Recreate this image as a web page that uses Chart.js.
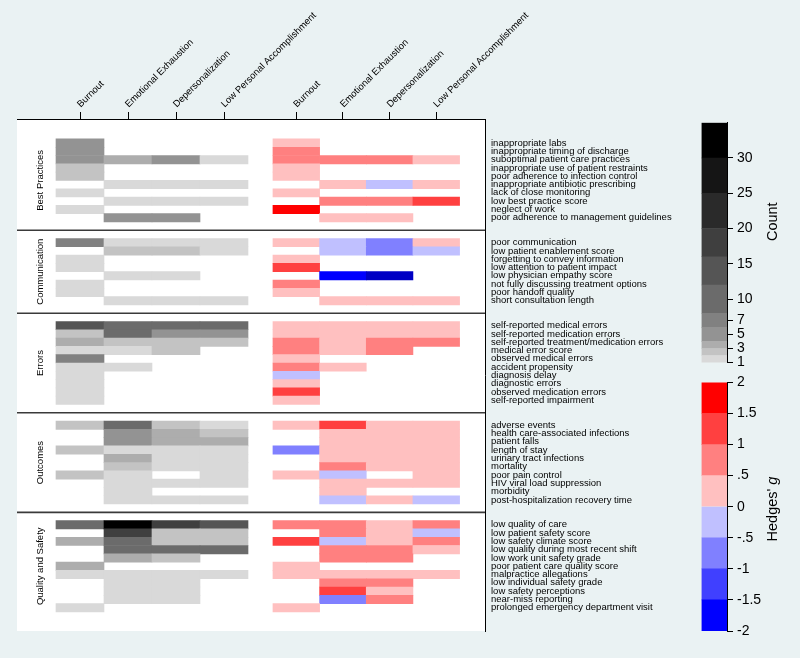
<!DOCTYPE html>
<html>
<head>
<meta charset="utf-8">
<script src="https://cdn.jsdelivr.net/npm/chart.js@4/dist/chart.umd.min.js"></script>
<style>
  html, body { margin: 0; padding: 0; background: #eaf2f3; }
  #wrap { position: relative; width: 800px; height: 658px; }
  canvas { position: absolute; }
  #main { left: 0; top: 0; }
  #cbCount { left: 690px; top: 110px; }
  #cbG { left: 690px; top: 370px; }
</style>
</head>
<body>
<div id="wrap">
  <canvas id="main" width="800" height="658"></canvas>
  <canvas id="cbCount" width="110" height="265"></canvas>
  <canvas id="cbG" width="110" height="275"></canvas>
</div>
<script>
// burnout heatmaps: number of studies (grey) and Hedges' g (red/blue)
const _ = null;
const dimensions = ['Burnout', 'Emotional Exhaustion', 'Depersonalization', 'Low Personal Accomplishment'];
const panelNames = ['Best Practices', 'Communication', 'Errors', 'Outcomes', 'Quality and Safety'];

const bestPracticesRows = ['inappropriate labs', 'inappropriate timing of discharge', 'suboptimal patient care practices',
  'inappropriate use of patient restraints', 'poor adherence to infection control', 'inappropriate antibiotic prescribing',
  'lack of close monitoring', 'low best practice score', 'neglect of work', 'poor adherence to management guidelines'];
const bestPracticesCount = [[5,_,_,_],[5,_,_,_],[5,3,5,1],[2,_,_,_],[2,_,_,_],[_,1,1,1],[1,_,_,_],[_,1,1,1],[1,_,_,_],[_,5,5,_]];
const bestPracticesG = [[.3,_,_,_],[.7,_,_,_],[.7,.7,.7,.3],[.3,_,_,_],[.3,_,_,_],[_,.3,-.2,.3],[.3,_,_,_],[_,.7,.7,1.2],[1.7,_,_,_],[_,.3,.3,_]];

const communicationRows = ['poor communication', 'low patient enablement score', 'forgetting to convey information',
  'low attention to patient impact', 'low physician empathy score', 'not fully discussing treatment options',
  'poor handoff quality', 'short consultation length'];
const communicationCount = [[7,1,1,1],[_,2,2,1],[1,_,_,_],[1,_,_,_],[_,1,1,_],[1,_,_,_],[1,_,_,_],[_,1,1,1]];
const communicationG = [[.3,-.2,-.7,.3],[_,-.2,-.7,-.2],[.3,_,_,_],[1.2,_,_,_],[_,-1.7,-2.3,_],[.7,_,_,_],[.3,_,_,_],[_,.3,.3,.3]];

const errorsRows = ['self-reported medical errors', 'self-reported medication errors', 'self-reported treatment/medication errors',
  'medical error score', 'observed medical errors', 'accident propensity', 'diagnosis delay', 'diagnostic errors',
  'observed medication errors', 'self-reported impairment'];
const errorsCount = [[14,10,10,10],[2,10,5,5],[3,2,2,2],[1,1,2,_],[7,_,_,_],[1,1,_,_],[1,_,_,_],[1,_,_,_],[1,_,_,_],[1,_,_,_]];
const errorsG = [[.3,.3,.3,.3],[.3,.3,.3,.3],[.7,.3,.7,.7],[.7,.3,.7,_],[.3,_,_,_],[.7,.3,_,_],[-.2,_,_,_],[.3,_,_,_],[1.2,_,_,_],[.3,_,_,_]];

const outcomesRows = ['adverse events', 'health care-associated infections', 'patient falls', 'length of stay',
  'urinary tract infections', 'mortality', 'poor pain control', 'HIV viral load suppression', 'morbidity',
  'post-hospitalization recovery time'];
const outcomesCount = [[2,10,2,1],[_,5,3,2],[_,5,3,3],[2,1,1,1],[_,3,1,1],[_,2,1,1],[2,1,_,1],[_,1,1,1],[_,1,_,_],[_,1,1,1]];
const outcomesG = [[.3,1.2,.3,.3],[_,.3,.3,.3],[_,.3,.3,.3],[-.7,.3,.3,.3],[_,.3,.3,.3],[_,.7,.3,.3],[.3,-.2,_,.3],[_,.3,.3,.3],[_,.3,_,_],[_,-.2,.3,-.2]];

const qualityRows = ['low quality of care', 'low patient safety score', 'low safety climate score',
  'low quality during most recent shift', 'low work unit safety grade', 'poor patient care quality score',
  'malpractice allegations', 'low individual safety grade', 'low safety perceptions', 'near-miss reporting',
  'prolonged emergency department visit'];
const qualityCount = [[10,32,18,14],[_,18,2,2],[3,10,2,2],[_,10,10,10],[_,3,2,_],[3,_,_,_],[1,1,1,1],[_,1,1,_],[_,1,1,_],[_,1,1,_],[1,_,_,_]];
const qualityG = [[.7,.7,.3,.7],[_,.7,.3,-.2],[1.2,-.2,.3,.7],[_,.7,.7,.3],[_,.7,.7,_],[.3,_,_,_],[.3,.3,.3,.3],[_,.7,.7,_],[_,1.2,.3,_],[_,-.7,.7,_],[.3,_,_,_]];

// legend bins and ticks
const countEdges = [1, 2, 3, 4, 6, 8, 12, 16, 20, 25, 30, 35];
const countTicks = [1, 3, 5, 7, 10, 15, 20, 25, 30];
const gEdges = [-2, -1.5, -1, -0.5, 0, 0.5, 1, 1.5, 2];
const gTicks = [-2, -1.5, -1, -0.5, 0, 0.5, 1, 1.5, 2];

const countColors = ['#d9d9d9', '#c3c3c3', '#adadad', '#939393', '#818181', '#6b6b6b', '#555555', '#3f3f3f', '#2a2a2a', '#151515', '#000000'];
const gColors = ['#0000ff', '#4040ff', '#8080ff', '#c0c0ff', '#ffc0c0', '#ff8080', '#ff4040', '#ff0000'];
const FONT = '"Liberation Sans", Arial, Helvetica, sans-serif';

function binColor(v, edges, colors, below) {
  if (v < edges[0]) return below;
  for (let i = 0; i < colors.length; i++) if (v < edges[i + 1]) return colors[i];
  return colors[colors.length - 1];
}

const panels = [
  { rows: bestPracticesRows, count: bestPracticesCount, g: bestPracticesG },
  { rows: communicationRows, count: communicationCount, g: communicationG },
  { rows: errorsRows, count: errorsCount, g: errorsG },
  { rows: outcomesRows, count: outcomesCount, g: outcomesG },
  { rows: qualityRows, count: qualityCount, g: qualityG },
];

// layout in row units (y) and column units (x)
const Y_MAX = 61.7;
const X_MIN = -0.3125, X_MAX = 9.4375;
const LEFT_X0 = 0.5, LEFT_W = 1;
const RIGHT_X0 = 5.02, RIGHT_W = 0.972;

const rowPos = [], rowLabels = [], separators = [], panelMid = [];
const cells = [], cellColors = [];
let start = 2.4;
panels.forEach((p, pi) => {
  p.rows.forEach((label, i) => {
    const y = start + i + 0.5;
    rowPos.push(y);
    rowLabels.push(label);
    for (let c = 0; c < 4; c++) {
      const n = p.count[i][c];
      if (n !== null) {
        cells.push({ x: [LEFT_X0 + c * LEFT_W, LEFT_X0 + (c + 1) * LEFT_W], y });
        cellColors.push(binColor(n, countEdges, countColors, countColors[0]));
      }
      const g = p.g[i][c];
      if (g !== null) {
        cells.push({ x: [RIGHT_X0 + c * RIGHT_W, RIGHT_X0 + (c + 1) * RIGHT_W], y });
        cellColors.push(binColor(g, gEdges, gColors, '#0000c4'));
      }
    }
  });
  panelMid.push(start + p.rows.length / 2);
  if (pi < panels.length - 1) separators.push(start + p.rows.length + 1);
  start += p.rows.length + 2;
});

const colCenters = [];
for (let c = 0; c < 4; c++) colCenters.push(LEFT_X0 + (c + 0.5) * LEFT_W);
for (let c = 0; c < 4; c++) colCenters.push(RIGHT_X0 + (c + 0.5) * RIGHT_W);

const plotDecor = {
  id: 'plotDecor',
  beforeDraw(chart) {
    const { ctx, chartArea: a } = chart;
    ctx.save();
    ctx.fillStyle = '#ffffff';
    ctx.fillRect(a.left, a.top, a.right - a.left, a.bottom - a.top);
    ctx.restore();
  },
  afterDraw(chart) {
    const { ctx, chartArea: a, scales } = chart;
    ctx.save();
    ctx.strokeStyle = '#3a3a3a';
    ctx.lineWidth = 1.6;
    separators.forEach(s => {
      const y = scales.y.getPixelForValue(s);
      ctx.beginPath();
      ctx.moveTo(a.left, y);
      ctx.lineTo(a.right, y);
      ctx.stroke();
    });
    ctx.fillStyle = '#000';
    ctx.font = '9.5px ' + FONT;
    ctx.textAlign = 'center';
    ctx.textBaseline = 'middle';
    panelNames.forEach((name, i) => {
      ctx.save();
      ctx.translate(40.5, scales.y.getPixelForValue(panelMid[i]));
      ctx.rotate(-Math.PI / 2);
      ctx.fillText(name, 0, 0);
      ctx.restore();
    });
    ctx.restore();
  }
};

new Chart(document.getElementById('main'), {
  type: 'bar',
  data: {
    datasets: [{
      data: cells,
      backgroundColor: cellColors,
      borderWidth: 0,
      barPercentage: 1,
      categoryPercentage: 1,
      grouped: false,
    }],
  },
  options: {
    indexAxis: 'y',
    responsive: false,
    animation: false,
    events: [],
    layout: { padding: { left: 17, right: 0, top: 0, bottom: 27 } },
    plugins: { legend: { display: false }, tooltip: { enabled: false } },
    scales: {
      x: {
        type: 'linear',
        position: 'top',
        min: X_MIN,
        max: X_MAX,
        offset: false,
        afterBuildTicks: (s) => { s.ticks = colCenters.map(v => ({ value: v })); },
        afterFit: (s) => { s.height = 119; },
        ticks: {
          autoSkip: false, minRotation: 45, maxRotation: 45, padding: 2, labelOffset: 7,
          color: '#000', font: { family: FONT, size: 9.5 },
          callback: (v, i) => dimensions[i % 4],
        },
        grid: { drawOnChartArea: false, drawTicks: true, tickLength: 7, color: '#000' },
        border: { display: true, color: '#000', width: 1 },
      },
      y: {
        type: 'linear',
        position: 'right',
        reverse: true,
        min: 0,
        max: Y_MAX,
        offset: false,
        afterBuildTicks: (s) => { s.ticks = rowPos.map(v => ({ value: v })); },
        afterFit: (s) => { s.width = 315; },
        ticks: {
          autoSkip: false, padding: 6,
          color: '#000', font: { family: FONT, size: 9.5 },
          callback: (v, i) => rowLabels[i],
        },
        grid: { display: false, drawTicks: false },
        border: { display: true, color: '#000', width: 1 },
      },
    },
  },
  plugins: [plotDecor],
});

function colorbar(id, edges, colors, ticks, fmt, padTop, padBottom, title) {
  const titlePlugin = {
    id: 'cbTitle',
    afterDraw(chart) {
      const { ctx } = chart;
      ctx.save();
      ctx.translate(83, title.y);
      ctx.rotate(-Math.PI / 2);
      ctx.fillStyle = '#000';
      ctx.textBaseline = 'middle';
      ctx.textAlign = 'left';
      const reg = '14.5px ' + FONT, ita = 'italic 14.5px ' + FONT;
      ctx.font = reg;
      const w1 = ctx.measureText(title.text).width;
      ctx.font = ita;
      const w2 = title.italic ? ctx.measureText(title.italic).width : 0;
      let x = -(w1 + w2) / 2;
      ctx.font = reg;
      ctx.fillText(title.text, x, 0);
      if (title.italic) {
        ctx.font = ita;
        ctx.fillText(title.italic, x + w1, 0);
      }
      ctx.restore();
    }
  };
  new Chart(document.getElementById(id), {
    type: 'bar',
    data: {
      labels: [''],
      datasets: colors.map((c, i) => ({
        data: [[edges[i], edges[i + 1]]],
        backgroundColor: c,
        borderWidth: 0,
        barPercentage: 1,
        categoryPercentage: 1,
        grouped: false,
      })),
    },
    options: {
      responsive: false,
      animation: false,
      events: [],
      layout: { padding: { left: 11.5, right: 0, top: padTop, bottom: padBottom } },
      plugins: { legend: { display: false }, tooltip: { enabled: false } },
      scales: {
        x: { display: false },
        y: {
          position: 'right',
          min: edges[0],
          max: edges[edges.length - 1],
          afterBuildTicks: (s) => { s.ticks = ticks.map(v => ({ value: v })); },
          afterFit: (s) => { s.width = 73; },
          ticks: { autoSkip: false, padding: 4, color: '#000', font: { family: FONT, size: 14 }, callback: fmt },
          grid: { drawOnChartArea: false, drawTicks: true, tickLength: 6, color: '#000' },
          border: { display: true, color: '#000', width: 1 },
        },
      },
    },
    plugins: [titlePlugin],
  });
}

colorbar('cbCount', countEdges, countColors, countTicks, (v) => String(v), 12.7, 12.3, { text: 'Count', y: 111.7 });
colorbar('cbG', gEdges, gColors, gTicks, (v) => (v === 0 ? '0' : String(v).replace('0.', '.')), 11.7, 14, { text: "Hedges' ", italic: 'g', y: 139 });
</script>
</body>
</html>
